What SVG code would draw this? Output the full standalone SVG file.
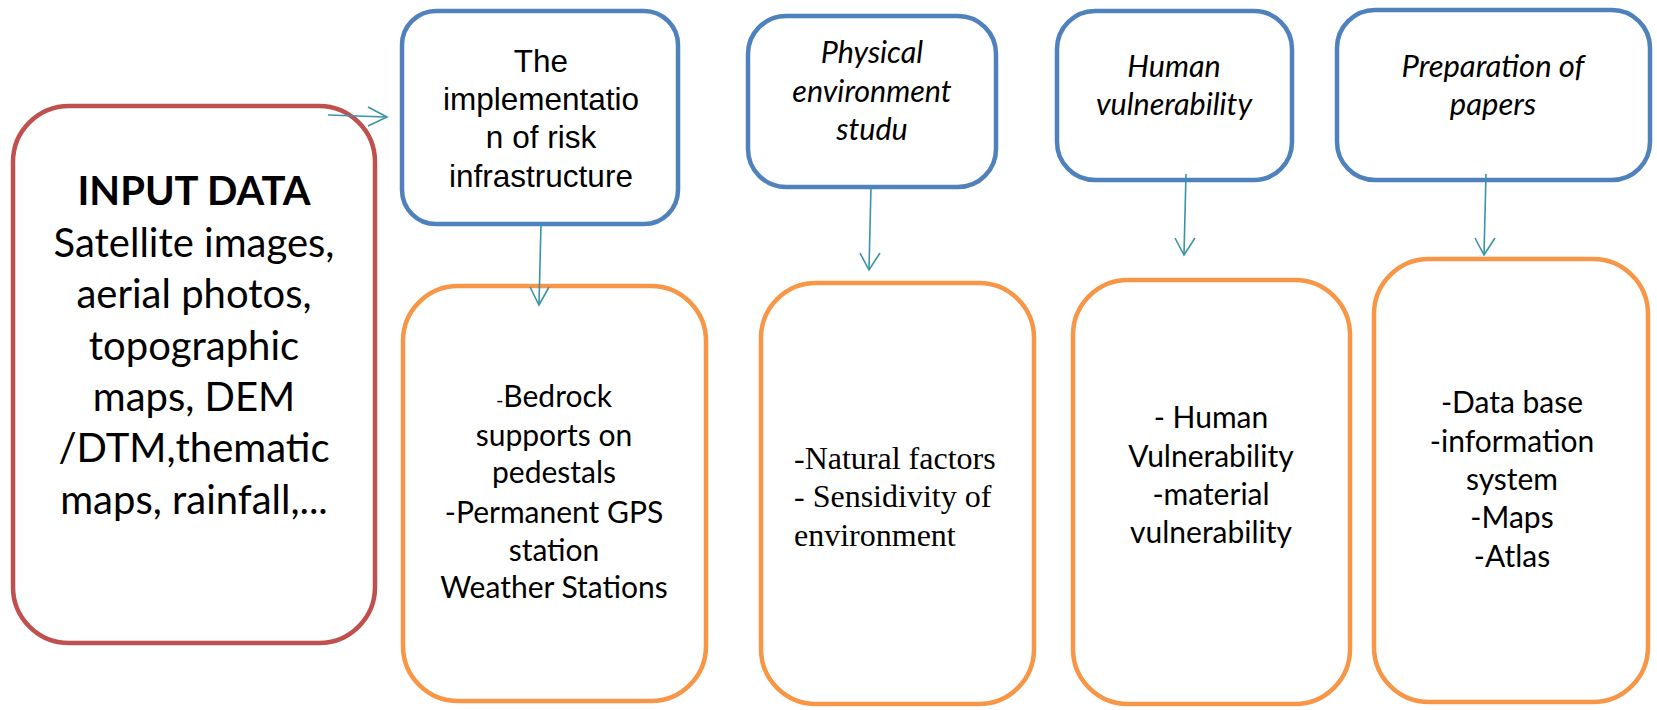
<svg xmlns="http://www.w3.org/2000/svg" width="1657" height="710" viewBox="0 0 1657 710">
<style>
.red{fill:#fff;stroke:#C0504D;stroke-width:4.5}
.blue{fill:#fff;stroke:#4F81BD;stroke-width:4.5}
.orange{fill:#fff;stroke:#F79646;stroke-width:4.5}
.cal{font-family:Lato,"Liberation Sans",sans-serif;fill:#000}
.ari{font-family:"Liberation Sans",Arial,sans-serif;fill:#000}
.tim{font-family:"Liberation Serif","Times New Roman",serif;fill:#000}
.c{text-anchor:middle}
.conn line,.conn polyline{stroke:#3A93A8;stroke-width:1.6;fill:none}
</style>
<rect width="1657" height="710" fill="#fff"/>
<g id="input">
<rect class="red" x="13" y="106" width="362" height="537" rx="56"/>
<text class="cal c" x="194" font-size="40"><tspan x="194" y="205" font-weight="bold">INPUT DATA</tspan><tspan x="194" y="257">Satellite images,</tspan><tspan x="194" y="308">aerial photos,</tspan><tspan x="194" y="360">topographic</tspan><tspan x="194" y="411">maps, DEM</tspan><tspan x="194" y="462">/DTM,thematic</tspan><tspan x="194" y="514">maps, rainfall,...</tspan></text>
</g>
<g id="infra">
<rect class="blue" x="402" y="11" width="276" height="213" rx="34"/>
<text class="ari c" font-size="31.5"><tspan x="541" y="72">The</tspan><tspan x="541" y="110">implementatio</tspan><tspan x="541" y="148">n of risk</tspan><tspan x="541" y="187">infrastructure</tspan></text>
</g>
<g id="physical">
<rect class="blue" x="748" y="16" width="248" height="171" rx="38"/>
<text class="cal c" font-size="30.5" font-style="italic"><tspan x="872" y="63">Physical</tspan><tspan x="872" y="102">environment</tspan><tspan x="872" y="140">studu</tspan></text>
</g>
<g id="human">
<rect class="blue" x="1057" y="11" width="235" height="169" rx="38"/>
<text class="cal c" font-size="30.5" font-style="italic"><tspan x="1174" y="77">Human</tspan><tspan x="1174" y="115">vulnerability</tspan></text>
</g>
<g id="prep">
<rect class="blue" x="1337" y="10" width="313" height="170" rx="38"/>
<text class="cal c" font-size="31" font-style="italic"><tspan x="1493" y="77">Preparation of</tspan><tspan x="1493" y="115">papers</tspan></text>
</g>
<g id="infra-items">
<rect class="orange" x="403" y="286" width="303" height="415" rx="55"/>
<text class="cal c" font-size="30"><tspan x="554" y="407"><tspan font-size="20">-</tspan>Bedrock</tspan><tspan x="554" y="446">supports on</tspan><tspan x="554" y="483">pedestals</tspan><tspan x="554" y="523">-Permanent GPS</tspan><tspan x="554" y="561">station</tspan><tspan x="554" y="598">Weather Stations</tspan></text>
</g>
<g id="physical-items">
<rect class="orange" x="761" y="283" width="273" height="421" rx="55"/>
<text class="tim" font-size="32"><tspan x="794" y="469">-Natural factors</tspan><tspan x="794" y="507">- Sensidivity of</tspan><tspan x="794" y="546">environment</tspan></text>
</g>
<g id="human-items">
<rect class="orange" x="1073" y="280" width="277" height="424" rx="55"/>
<text class="cal c" font-size="30"><tspan x="1211" y="428">- Human</tspan><tspan x="1211" y="467">Vulnerability</tspan><tspan x="1211" y="505">-material</tspan><tspan x="1211" y="543">vulnerability</tspan></text>
</g>
<g id="prep-items">
<rect class="orange" x="1374" y="259" width="274" height="443" rx="55"/>
<text class="cal c" font-size="30"><tspan x="1512" y="413">-Data base</tspan><tspan x="1512" y="452">-information</tspan><tspan x="1512" y="490">system</tspan><tspan x="1512" y="528">-Maps</tspan><tspan x="1512" y="567">-Atlas</tspan></text>
</g>
<g class="conn" id="connectors">
<line x1="328" y1="115" x2="386" y2="117"/><polyline points="368,107 387,117 368,126"/>
<line x1="541" y1="224" x2="539" y2="304"/><polyline points="530,287 539,305 549,287"/>
<line x1="871" y1="187" x2="869" y2="269"/><polyline points="860,253 869,270 880,253"/>
<line x1="1186" y1="174" x2="1184" y2="254"/><polyline points="1175,238 1184,255 1195,238"/>
<line x1="1486" y1="174" x2="1484" y2="254"/><polyline points="1475,238 1484,255 1495,238"/>
</g>
</svg>
